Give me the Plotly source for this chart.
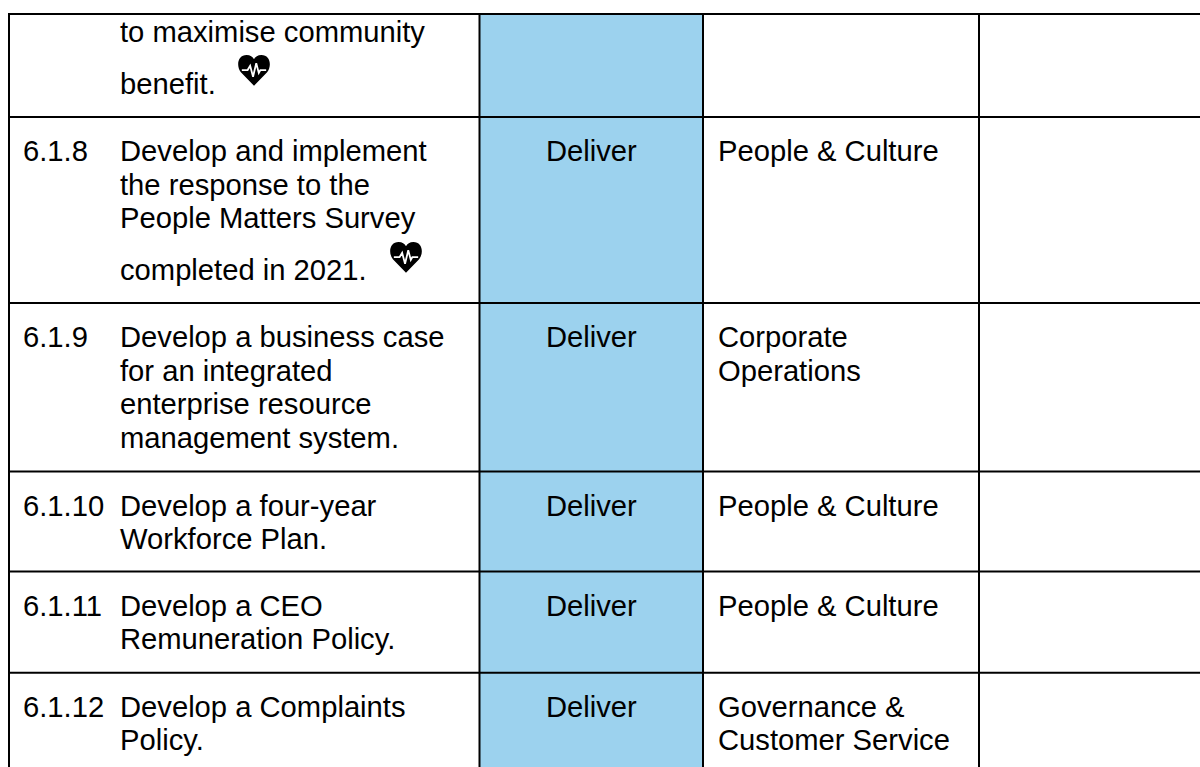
import plotly.graph_objects as go

# ---- table content ----
item_ids = ["", "6.1.8", "6.1.9", "6.1.10", "6.1.11", "6.1.12"]
actions = [
    ["to maximise community", "benefit."],
    ["Develop and implement", "the response to the", "People Matters Survey", "completed in 2021."],
    ["Develop a business case", "for an integrated", "enterprise resource", "management system."],
    ["Develop a four-year", "Workforce Plan."],
    ["Develop a CEO", "Remuneration Policy."],
    ["Develop a Complaints", "Policy."],
]
statuses = ["", "Deliver", "Deliver", "Deliver", "Deliver", "Deliver"]
owners = [
    [],
    ["People & Culture"],
    ["Corporate", "Operations"],
    ["People & Culture"],
    ["People & Culture"],
    ["Governance &", "Customer Service"],
]
has_heart = [True, True, False, False, False, False]

# ---- layout of the page ----
W, H = 1200, 767
col_edges = [9, 479.5, 703, 979]
row_edges = [14, 117, 303, 471.5, 571.5, 672.7, 767]
first_line_offset = [18, 34, 34, 34, 34, 34]
LINE = 33.6
HEART_LINE = 52
FONT = dict(family="Liberation Sans, Arial, sans-serif", size=29.2, color="#000000")
BLUE = "#9CD2EE"
heart_anchor = [(238, 55), (390, 242)]

shapes, annots = [], []

# status column fill
shapes.append(dict(type="rect", x0=col_edges[1], x1=col_edges[2], y0=row_edges[0], y1=H,
                   fillcolor=BLUE, line_width=0, layer="below"))

# grid lines
for y in row_edges[:-1]:
    shapes.append(dict(type="line", x0=col_edges[0] - 1, x1=W, y0=y, y1=y,
                       line=dict(color="#000", width=2)))
for x in col_edges:
    shapes.append(dict(type="line", x0=x, x1=x, y0=row_edges[0], y1=H,
                       line=dict(color="#000", width=2)))


def text(x, y, s, anchor="left"):
    annots.append(dict(x=x, y=y, text=s, showarrow=False, xanchor=anchor, yanchor="middle",
                       font=FONT, align=anchor, xref="x", yref="y", borderpad=0, borderwidth=0))


def heart(ax, ay):
    s = 32 / 100
    def p(u, v):
        return f"{ax + u * s:.2f},{ay + v * s:.2f}"
    body = (f"M{p(50,96)} L{p(9,54)} C{p(-7,32)} {p(0,0)} {p(27,0)} "
            f"C{p(38,0)} {p(46,6)} {p(50,13)} C{p(54,6)} {p(62,0)} {p(73,0)} "
            f"C{p(100,0)} {p(107,32)} {p(91,54)} Z")
    shapes.append(dict(type="path", path=body, fillcolor="#000", line_width=0))
    pulse = [(12, 47), (30, 47), (38, 34), (47, 68), (57, 26), (65, 56), (70, 47), (88, 47)]
    d = "M" + " L".join(p(u, v) for u, v in pulse)
    shapes.append(dict(type="path", path=d, line=dict(color="#fff", width=1.8)))


for i, top in enumerate(row_edges[:-1]):
    y0 = top + first_line_offset[i]
    if item_ids[i]:
        text(23, y0, item_ids[i])
    if statuses[i]:
        text((col_edges[1] + col_edges[2]) / 2, y0, statuses[i], "center")
    y = y0
    for j, line in enumerate(actions[i]):
        if j:
            is_last_heart = has_heart[i] and j == len(actions[i]) - 1
            y += HEART_LINE if is_last_heart else LINE
        text(119.5, y, line)
    for j, line in enumerate(owners[i]):
        text(col_edges[2] + 14.5, y0 + j * LINE, line)

for ax, ay in heart_anchor:
    heart(ax, ay)

fig = go.Figure()
fig.update_layout(
    width=W, height=H, margin=dict(l=0, r=0, t=0, b=0),
    paper_bgcolor="#fff", plot_bgcolor="#fff", showlegend=False,
    xaxis=dict(range=[0, W], visible=False, fixedrange=True),
    yaxis=dict(range=[H, 0], visible=False, fixedrange=True),
    shapes=shapes, annotations=annots,
)
fig.write_html("out.html", config=dict(displayModeBar=False),
               post_script="document.body.style.margin='0';document.documentElement.style.overflow='hidden';")
